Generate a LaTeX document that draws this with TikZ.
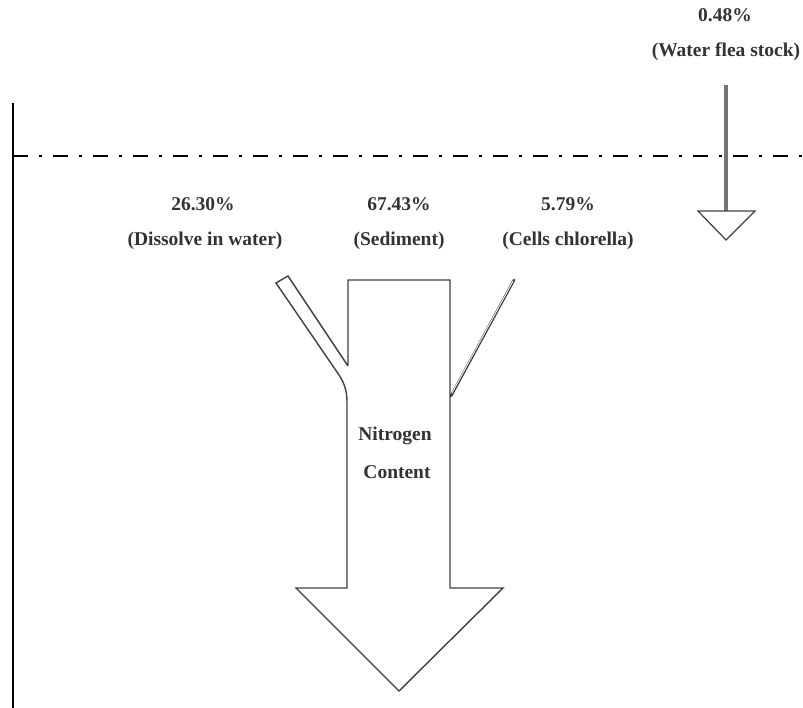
\documentclass[tikz,border=0pt]{standalone}
\usepackage{fontspec}
\setmainfont{Liberation Serif}
\begin{document}
\begin{tikzpicture}[x=1pt,y=-1pt,
  lbl/.style={font=\fontsize{19.5}{22}\selectfont\bfseries, text=black!80, inner sep=0pt, anchor=center},
  outline/.style={draw=black!75, line width=1.4pt, line join=miter}]
\useasboundingbox (0,0) rectangle (803,708);
% left wall
\draw[line width=2.8pt] (13,103) -- (13,708);
% water surface
\draw[line width=2.6pt, dash pattern=on 15pt off 11pt on 3pt off 11pt] (13,156) -- (803,156);
% main arrow
\draw[outline] (348,366) -- (348,280) -- (450,280) -- (450,588) -- (503,588) -- (399,691)
  -- (296,588) -- (347,588) -- (347,402) .. controls (347,390) and (344,382) .. (337,372)
  -- (276,283) -- (288,276) -- (348,366);
% right thin branch
\draw[draw=black!75, line width=2.6pt, line cap=round] (451,396) -- (514,280);
\draw[draw=white, line width=0.8pt, line cap=round] (452,393) -- (513,281);
% water flea arrow
\draw[draw=black!55, line width=4pt] (726,85) -- (726,211);
\draw[draw=black!75, line width=1.2pt, line join=miter] (698,211) -- (755,211) -- (726,240) -- cycle;
% labels
\node[lbl] (wfp) at (725,15) {0.48\%};
\node[lbl] (wf) at (726,52) {(Water flea stock)};
\node[lbl] (dp) at (203,204) {26.30\%};
\node[lbl] (dw) at (205,241) {(Dissolve in water)};
\node[lbl] (sp) at (399,204) {67.43\%};
\node[lbl] (sd) at (399,241) {(Sediment)};
\node[lbl] (cp) at (568,204) {5.79\%};
\node[lbl] (cc) at (568,241) {(Cells chlorella)};
\node[lbl] (n1) at (395,436) {Nitrogen};
\node[lbl] (n2) at (397,472) {Content};
\end{tikzpicture}
\end{document}
